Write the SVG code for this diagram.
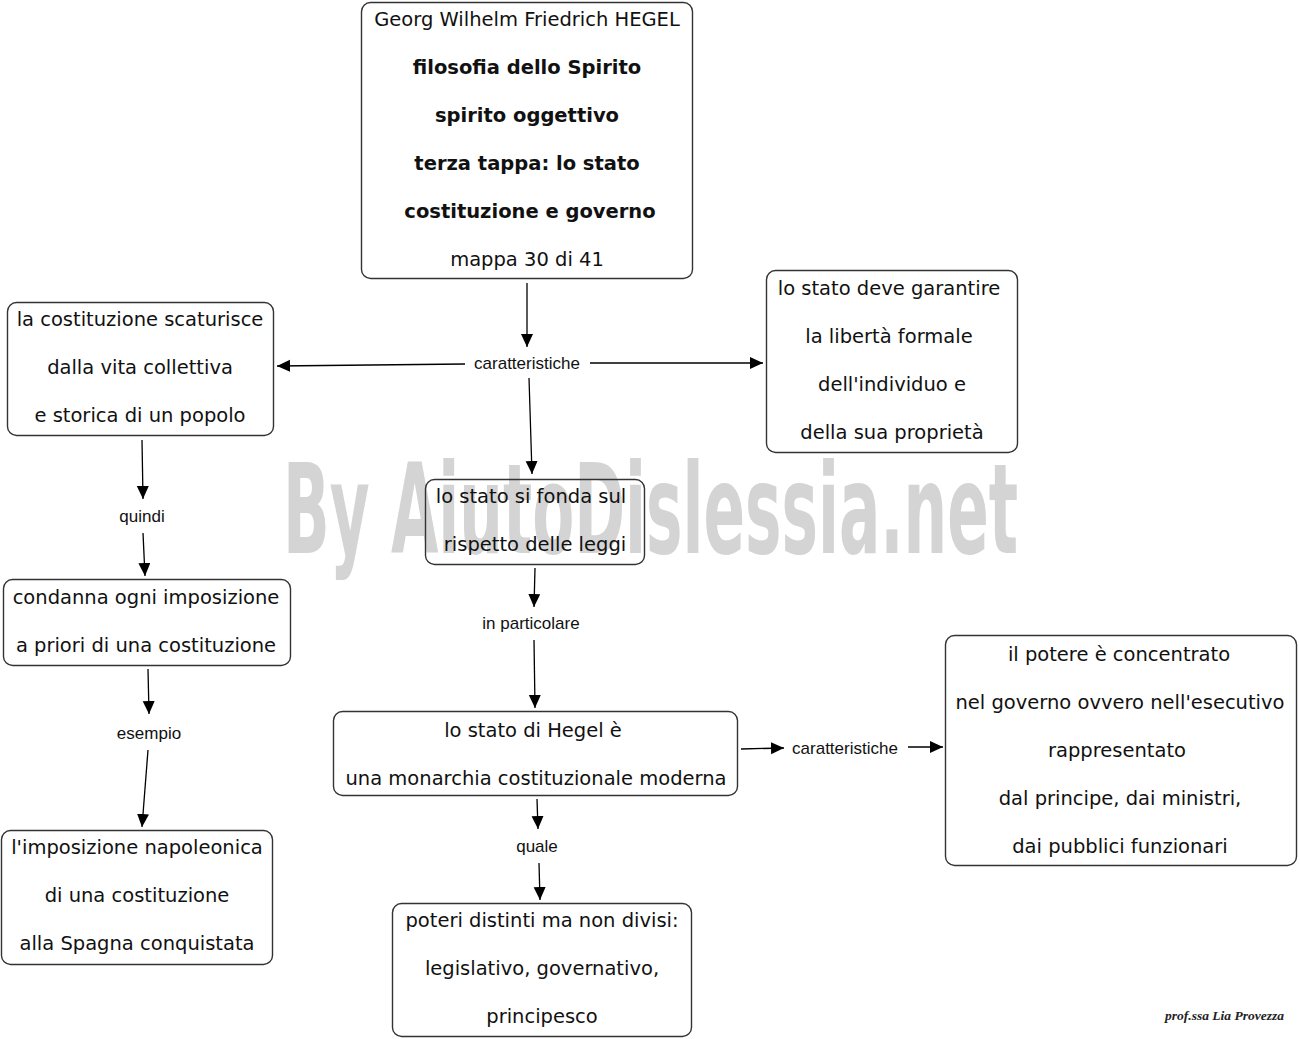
<svg xmlns="http://www.w3.org/2000/svg" width="1300" height="1039" viewBox="0 0 1300 1039">
<defs>
<marker id="arr" markerUnits="userSpaceOnUse" markerWidth="14" markerHeight="13" refX="13" refY="6" orient="auto">
<path d="M0,0 L13,6 L0,12 z" fill="#000"/>
</marker>
<style>
.box{fill:none;stroke:#333;stroke-width:1.4}
.t{font-family:"DejaVu Sans","Verdana",sans-serif;font-size:19.5px;fill:#111;text-anchor:middle}
.b{font-weight:bold}
.lbl{font-family:"Liberation Sans",Arial,sans-serif;font-size:17px;fill:#111;text-anchor:middle}
.c{stroke:#000;stroke-width:1.3;fill:none;marker-end:url(#arr)}
</style>
</defs>
<rect width="1300" height="1039" fill="#fff"/>
<text id="watermark" x="283" y="553" textLength="735" lengthAdjust="spacingAndGlyphs" font-family="'Liberation Sans Narrow','DejaVu Sans Condensed',sans-serif" font-weight="bold" font-size="125" fill="#d4d4d4">By AiutoDislessia.net</text>

<g id="connectors">
<line class="c" x1="527" y1="283" x2="527" y2="347"/>
<line class="c" x1="465" y1="364" x2="277" y2="366"/>
<line class="c" x1="590" y1="363" x2="763" y2="363"/>
<line class="c" x1="529" y1="378" x2="532" y2="474"/>
<line class="c" x1="142" y1="440" x2="143" y2="499"/>
<line class="c" x1="143" y1="533" x2="145" y2="576"/>
<line class="c" x1="148" y1="669" x2="149" y2="714"/>
<line class="c" x1="148" y1="750" x2="142" y2="827"/>
<line class="c" x1="535" y1="568" x2="534" y2="607"/>
<line class="c" x1="534" y1="640" x2="535" y2="708"/>
<line class="c" x1="741" y1="749" x2="784" y2="748"/>
<line class="c" x1="908" y1="747" x2="943" y2="747"/>
<line class="c" x1="537" y1="799" x2="538" y2="829"/>
<line class="c" x1="539" y1="863" x2="540" y2="900"/>
<text class="lbl" x="527" y="369">caratteristiche</text>
<text class="lbl" x="142" y="522">quindi</text>
<text class="lbl" x="149" y="739">esempio</text>
<text class="lbl" x="531" y="629">in particolare</text>
<text class="lbl" x="845" y="754">caratteristiche</text>
<text class="lbl" x="537" y="852">quale</text>
</g>

<g id="n-hegel">
<rect class="box" x="361.5" y="2.5" width="331" height="276" rx="9"/>
<text class="t" x="527" y="26">Georg Wilhelm Friedrich HEGEL</text>
<text class="t b" x="527" y="74">filosofia dello Spirito</text>
<text class="t b" x="527" y="122">spirito oggettivo</text>
<text class="t b" x="527" y="170">terza tappa: lo stato</text>
<text class="t b" x="530" y="218">costituzione e governo</text>
<text class="t" x="527" y="266">mappa 30 di 41</text>
</g>

<g id="n-costituzione">
<rect class="box" x="7.5" y="302.5" width="266" height="133" rx="9"/>
<text class="t" x="140" y="326">la costituzione scaturisce</text>
<text class="t" x="140" y="374">dalla vita collettiva</text>
<text class="t" x="140" y="422">e storica di un popolo</text>
</g>

<g id="n-garantire">
<rect class="box" x="766.5" y="270.5" width="251" height="182" rx="9"/>
<text class="t" x="889" y="295">lo stato deve garantire</text>
<text class="t" x="889" y="343">la libertà formale</text>
<text class="t" x="892" y="391">dell'individuo e</text>
<text class="t" x="892" y="439">della sua proprietà</text>
</g>

<g id="n-leggi">
<rect class="box" x="425.5" y="479.5" width="219" height="85" rx="9"/>
<text class="t" x="531" y="503">lo stato si fonda sul</text>
<text class="t" x="535" y="551">rispetto delle leggi</text>
</g>

<g id="n-condanna">
<rect class="box" x="3.5" y="579.5" width="287" height="86" rx="9"/>
<text class="t" x="146" y="604">condanna ogni imposizione</text>
<text class="t" x="146" y="652">a priori di una costituzione</text>
</g>

<g id="n-monarchia">
<rect class="box" x="333.5" y="711.5" width="404" height="84" rx="9"/>
<text class="t" x="533" y="737">lo stato di Hegel è</text>
<text class="t" x="536" y="785">una monarchia costituzionale moderna</text>
</g>

<g id="n-potere">
<rect class="box" x="945.5" y="635.5" width="351" height="230" rx="9"/>
<text class="t" x="1119" y="661">il potere è concentrato</text>
<text class="t" x="1120" y="709">nel governo ovvero nell'esecutivo</text>
<text class="t" x="1117" y="757">rappresentato</text>
<text class="t" x="1120" y="805">dal principe, dai ministri,</text>
<text class="t" x="1120" y="853">dai pubblici funzionari</text>
</g>

<g id="n-napoleonica">
<rect class="box" x="1.5" y="830.5" width="271" height="134" rx="9"/>
<text class="t" x="137" y="854">l'imposizione napoleonica</text>
<text class="t" x="137" y="902">di una costituzione</text>
<text class="t" x="137" y="950">alla Spagna conquistata</text>
</g>

<g id="n-poteri">
<rect class="box" x="392.5" y="903.5" width="299" height="133" rx="9"/>
<text class="t" x="542" y="927">poteri distinti ma non divisi:</text>
<text class="t" x="542" y="975">legislativo, governativo,</text>
<text class="t" x="542" y="1023">principesco</text>
</g>

<text id="signature" x="1165" y="1020" textLength="119" lengthAdjust="spacingAndGlyphs" font-family="'Liberation Serif',serif" font-style="italic" font-weight="bold" font-size="12" fill="#222">prof.ssa Lia Provezza</text>
</svg>
